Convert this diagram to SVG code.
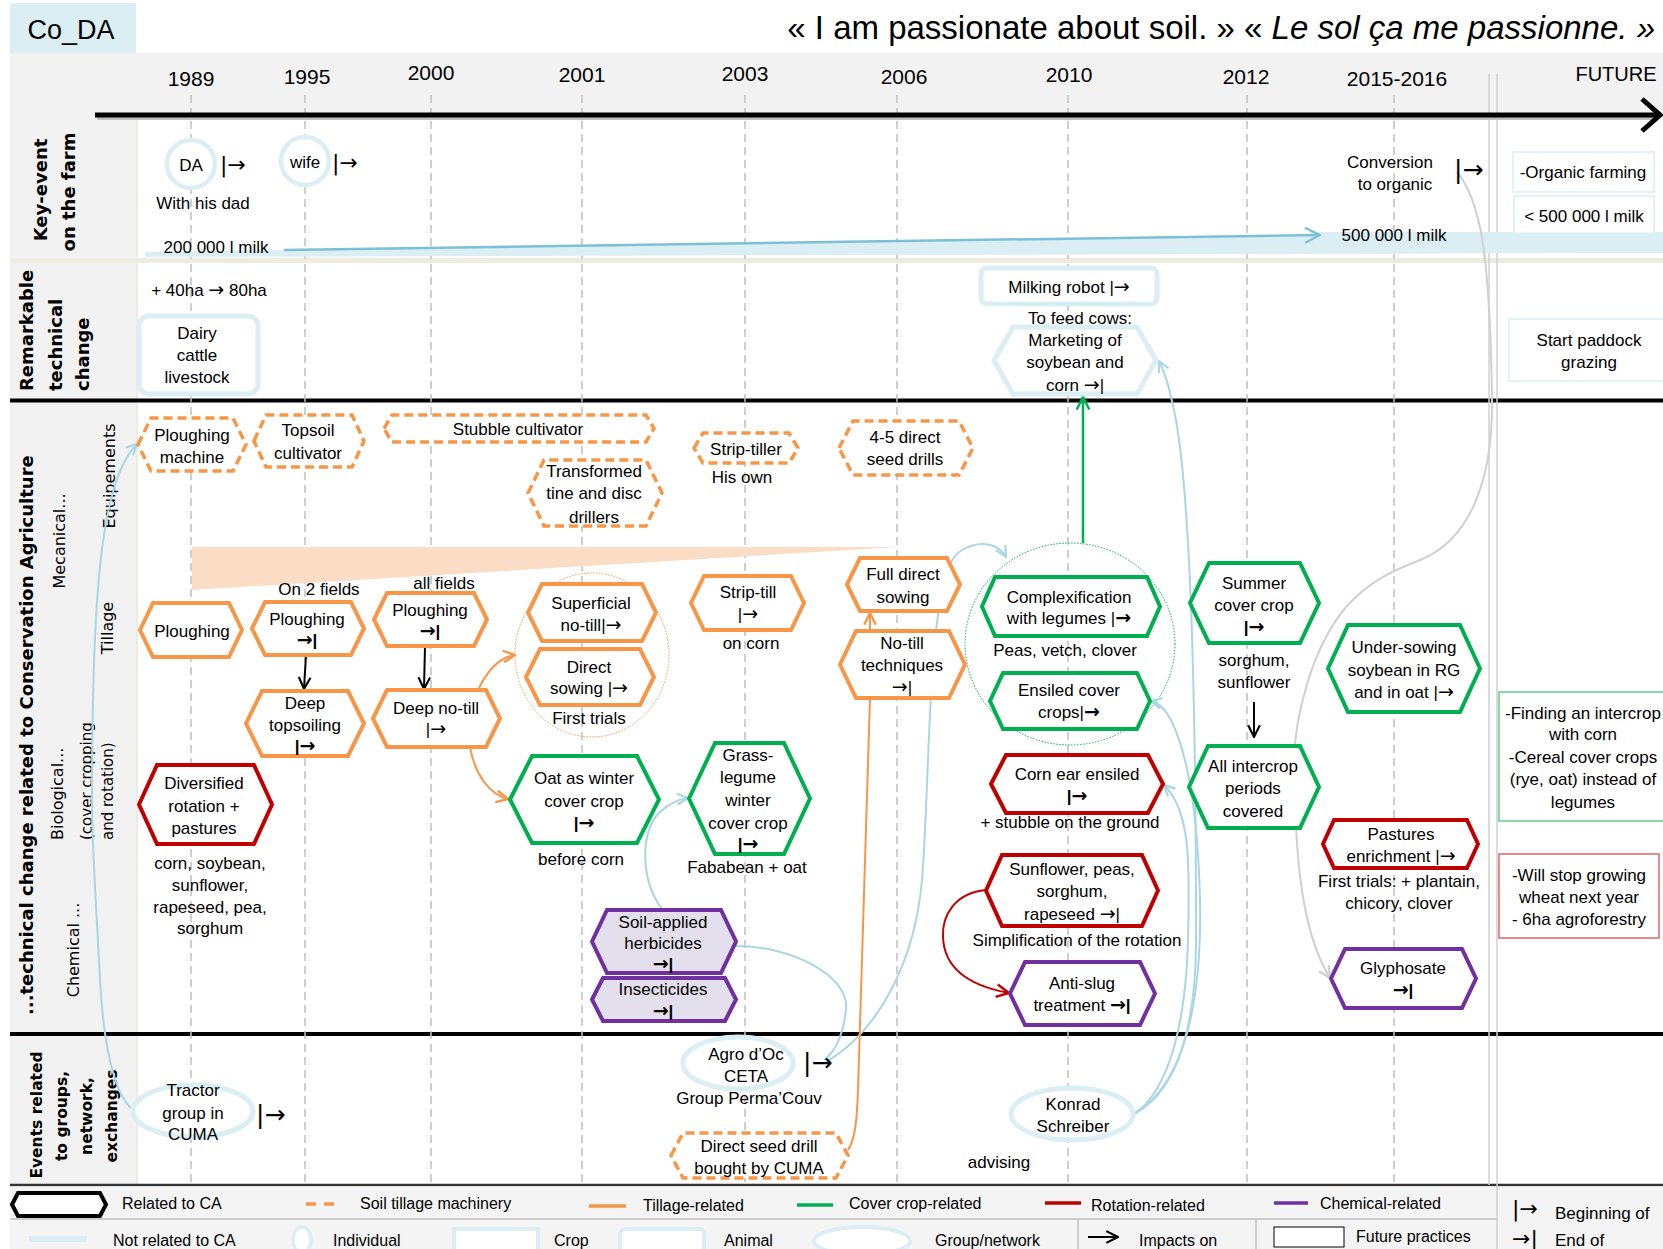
<svg xmlns="http://www.w3.org/2000/svg" width="1663" height="1249" viewBox="0 0 1663 1249">
<defs>
<style>
text{font-family:"Liberation Sans",Arial,sans-serif;fill:#000}
.t{font-size:17px;text-anchor:middle}
.a{font-family:"DejaVu Sans",sans-serif;font-size:19px}
.yr{font-size:21px;text-anchor:middle}
.lg{font-size:16px}
.rl{font-family:"DejaVu Sans",Verdana,sans-serif;font-weight:bold;font-size:18px;text-anchor:middle}
.rs{font-family:"DejaVu Sans",Verdana,sans-serif;font-weight:bold;font-size:15.5px;text-anchor:middle}
.sl{font-family:"DejaVu Sans",Verdana,sans-serif;font-size:16px;text-anchor:middle}
.sym{font-family:"DejaVu Sans",sans-serif;font-size:22px}
.yd{stroke:#c0c0c0;stroke-width:1.5;stroke-dasharray:8 5;fill:none}
.eq{fill:#fff;stroke:#f79646;stroke-width:3.5;stroke-dasharray:9 5}
.ti{fill:#fff;stroke:#f79646;stroke-width:4}
.cc{fill:#fff;stroke:#00b050;stroke-width:4}
.ro{fill:#fff;stroke:#c00000;stroke-width:4}
.ch{fill:#fff;stroke:#7030a0;stroke-width:4}
.chf{fill:#e4dfec;stroke:#7030a0;stroke-width:4}
.lb{fill:#fff;stroke:#daeef3;stroke-width:5}
.fb{fill:#fff;stroke:#daeef3;stroke-width:1.5}
.cb{fill:none;stroke:#a9d6e5;stroke-width:2}
.cg{fill:none;stroke:#d0d0d0;stroke-width:2}
.co{fill:none;stroke:#f79646;stroke-width:2}
.ck{fill:none;stroke:#000;stroke-width:2}
</style>
<marker id="mB" viewBox="0 0 12 12" refX="11" refY="6" markerWidth="13" markerHeight="13" orient="auto" markerUnits="userSpaceOnUse"><path d="M1,1 L11,6 L1,11" fill="none" stroke="#a9d6e5" stroke-width="2"/></marker>
<marker id="mM" viewBox="0 0 12 12" refX="11" refY="6" markerWidth="18" markerHeight="18" orient="auto" markerUnits="userSpaceOnUse"><path d="M1,1 L11,6 L1,11" fill="none" stroke="#7cc0d8" stroke-width="1.5"/></marker>
<marker id="mG" viewBox="0 0 12 12" refX="11" refY="6" markerWidth="14" markerHeight="14" orient="auto" markerUnits="userSpaceOnUse"><path d="M1,1 L11,6 L1,11" fill="none" stroke="#d0d0d0" stroke-width="2"/></marker>
<marker id="mO" viewBox="0 0 12 12" refX="11" refY="6" markerWidth="14" markerHeight="14" orient="auto" markerUnits="userSpaceOnUse"><path d="M1,1 L11,6 L1,11" fill="none" stroke="#f79646" stroke-width="2"/></marker>
<marker id="mN" viewBox="0 0 12 12" refX="11" refY="6" markerWidth="15" markerHeight="15" orient="auto" markerUnits="userSpaceOnUse"><path d="M1,1 L11,6 L1,11" fill="none" stroke="#00b050" stroke-width="2"/></marker>
<marker id="mR" viewBox="0 0 12 12" refX="11" refY="6" markerWidth="15" markerHeight="15" orient="auto" markerUnits="userSpaceOnUse"><path d="M1,1 L11,6 L1,11" fill="none" stroke="#c00000" stroke-width="2"/></marker>
<marker id="mK" viewBox="0 0 12 12" refX="11" refY="6" markerWidth="14" markerHeight="14" orient="auto" markerUnits="userSpaceOnUse"><path d="M1,1 L11,6 L1,11" fill="none" stroke="#000" stroke-width="1.8"/></marker>
</defs>

<g id="background">
<rect width="1663" height="1249" fill="#fff"/>
<rect x="10" y="3" width="126" height="52" fill="#daeef3"/>
<rect x="10" y="53" width="1653" height="60" fill="#f2f2f2"/>
<rect x="10" y="53" width="126" height="1132" fill="#f2f2f2"/>
<line x1="137" y1="113" x2="137" y2="1185" stroke="#eeece1" stroke-width="2"/>
<rect x="10" y="258" width="1653" height="5" fill="#eeece1"/>
<line x1="10" y1="400.5" x2="1663" y2="400.5" stroke="#000" stroke-width="4"/>
<line x1="10" y1="1034" x2="1663" y2="1034" stroke="#000" stroke-width="4"/>
<line x1="10" y1="1185" x2="1663" y2="1185" stroke="#333" stroke-width="2.5"/>
<rect x="10" y="1186.5" width="1653" height="62.5" fill="#f4f4f4"/>
<line x1="10" y1="1219" x2="1497" y2="1219" stroke="#bfbfbf" stroke-width="1.5"/>
<line x1="1078" y1="1219" x2="1078" y2="1249" stroke="#bfbfbf" stroke-width="1.5"/>
<line x1="1256" y1="1219" x2="1256" y2="1249" stroke="#bfbfbf" stroke-width="1.5"/>
<line x1="1489" y1="74" x2="1489" y2="1185" stroke="#d0d0d0" stroke-width="1.5"/>
<line x1="1497" y1="74" x2="1497" y2="1249" stroke="#d0d0d0" stroke-width="1.5"/>
</g>

<g id="year-lines">
<line class="yd" x1="191" y1="95" x2="191" y2="1185"/>
<line class="yd" x1="305" y1="95" x2="305" y2="1185"/>
<line class="yd" x1="431" y1="95" x2="431" y2="1185"/>
<line class="yd" x1="582" y1="95" x2="582" y2="1185"/>
<line class="yd" x1="745" y1="95" x2="745" y2="1185"/>
<line class="yd" x1="897" y1="95" x2="897" y2="1185"/>
<line class="yd" x1="1068" y1="95" x2="1068" y2="1185"/>
<line class="yd" x1="1247" y1="95" x2="1247" y2="1185"/>
<line class="yd" x1="1394" y1="95" x2="1394" y2="1185"/>
</g>

<g id="header">
<text x="71" y="39" style="font-size:27px;text-anchor:middle">Co_DA</text>
<text x="1655" y="39" style="font-size:33px;text-anchor:end">« I am passionate about soil. » « <tspan font-style="italic">Le sol ça me passionne. »</tspan></text>
<text class="yr" x="191" y="86">1989</text>
<text class="yr" x="307" y="84">1995</text>
<text class="yr" x="431" y="80">2000</text>
<text class="yr" x="582" y="82">2001</text>
<text class="yr" x="745" y="81">2003</text>
<text class="yr" x="904" y="84">2006</text>
<text class="yr" x="1069" y="82">2010</text>
<text class="yr" x="1246" y="84">2012</text>
<text class="yr" x="1397" y="86">2015-2016</text>
<text class="yr" x="1616" y="81" style="font-size:20px">FUTURE</text>
<line x1="97" y1="118.5" x2="1655" y2="118.5" stroke="#bfbfbf" stroke-width="3"/>
<line x1="95" y1="115" x2="1658" y2="115" stroke="#000" stroke-width="5"/>
<polyline points="1642,99 1660,115 1642,131" fill="none" stroke="#000" stroke-width="5"/>
</g>

<g id="row-labels">
<text class="rl" transform="translate(47,190) rotate(-90)">Key-event</text>
<text class="rl" transform="translate(75,192) rotate(-90)">on the farm</text>
<text class="rl" transform="translate(33,391) rotate(-90)" style="text-anchor:start">Remarkable</text>
<text class="rl" transform="translate(62,391) rotate(-90)" style="text-anchor:start">technical</text>
<text class="rl" transform="translate(89,391) rotate(-90)" style="text-anchor:start">change</text>
<text class="rl" transform="translate(33,1015) rotate(-90)" style="text-anchor:start">...technical change related to Conservation Agriculture</text>
<text class="sl" transform="translate(65,541) rotate(-90)">Mecanical...</text>
<text class="sl" transform="translate(115,476) rotate(-90)">Equipements</text>
<text class="sl" transform="translate(113,628) rotate(-90)">Tillage</text>
<text class="sl" transform="translate(63,840) rotate(-90)" style="text-anchor:start">Biological...</text>
<text class="sl" transform="translate(92,840) rotate(-90)" style="text-anchor:start;font-size:15px">(cover cropping</text>
<text class="sl" transform="translate(113,840) rotate(-90)" style="text-anchor:start;font-size:15px">and rotation)</text>
<text class="sl" transform="translate(79,950) rotate(-90)">Chemical ...</text>
<text class="rs" transform="translate(42,1115) rotate(-90)">Events related</text>
<text class="rs" transform="translate(67,1116) rotate(-90)">to groups,</text>
<text class="rs" transform="translate(92,1116) rotate(-90)">network,</text>
<text class="rs" transform="translate(117,1116) rotate(-90)">exchanges</text>
</g>

<g id="milk-band">
<polygon points="145,252 1310,236 1310,232 1663,232 1663,253 145,257" fill="#daeef3"/>
</g>

<g id="groupings">
<ellipse cx="592" cy="655" rx="77" ry="82" fill="none" stroke="#f79646" stroke-width="1" stroke-dasharray="1.5 1.5"/>
<ellipse cx="1070" cy="644" rx="105" ry="101" fill="none" stroke="#00b050" stroke-width="1" stroke-dasharray="1.5 1.5"/>
<polygon points="192,547 898,547 192,590" fill="#fbdcc4"/>
</g>

<g id="connectors">
<path d="M284,250 L1320,235" fill="none" stroke="#7cc0d8" stroke-width="2.5" marker-end="url(#mM)"/>
<path class="cb" d="M133,1110 C115,1095 104,1050 100,980 C96,900 92,850 92,800 C92,600 100,480 137,444" marker-end="url(#mB)"/>
<path class="cb" d="M662,909 C640,880 640,830 660,812 C670,803 678,799 688,798" marker-end="url(#mB)"/>
<path class="cb" d="M736,946 C790,946 850,975 846,1010 C843,1035 835,1052 824,1060"/>
<path class="cb" d="M826,1062 C880,1030 915,960 922,880 C927,820 928,720 934,650 C940,590 945,560 962,550 C980,540 998,543 1006,557" marker-end="url(#mB)"/>
<path class="cb" d="M1134,1114 C1180,1090 1196,1020 1196,940 C1196,700 1190,500 1176,420 C1170,390 1166,375 1159,361" marker-end="url(#mB)"/>
<path class="cb" d="M1134,1114 C1185,1085 1202,1000 1200,900 C1198,820 1190,760 1172,722 C1166,710 1160,703 1151,701" marker-end="url(#mB)"/>
<path class="cb" d="M1134,1114 C1170,1090 1186,1020 1188,940 C1190,860 1190,810 1164,785" marker-end="url(#mB)"/>
<path class="cg" d="M1457,172 C1480,200 1490,250 1492,400 C1493,480 1470,540 1420,560 C1395,570 1370,580 1346,607 C1310,650 1295,720 1294,760 C1295,850 1300,930 1330,978" marker-end="url(#mG)"/>
<path class="co" d="M479,688 C488,670 500,657 515,655" marker-end="url(#mO)"/>
<path class="co" d="M470,747 C475,775 490,795 508,799" marker-end="url(#mO)"/>
<path class="co" d="M870,631 L870,613" marker-end="url(#mO)"/>
<path class="co" d="M848,1150 C855,1140 857,1120 858,1090 L870,698"/>
<path d="M1083,543 L1083,397" fill="none" stroke="#00b050" stroke-width="2.5" marker-end="url(#mN)"/>
<path d="M986,890 C955,893 942,915 943,937 C944,965 965,985 1009,993" fill="none" stroke="#c00000" stroke-width="2" marker-end="url(#mR)"/>
<path class="ck" d="M306,655 L304,689" marker-end="url(#mK)"/>
<path class="ck" d="M425,646 L424,689" marker-end="url(#mK)"/>
<path class="ck" d="M1254,702 L1254,737" marker-end="url(#mK)"/>
</g>

<g id="key-events">
<g id="n-da"><ellipse class="lb" cx="191" cy="164" rx="24" ry="24" style="stroke-width:4.5"/><text class="t" x="191" y="171">DA</text><text class="sym" x="220" y="172">|→</text></g>
<g id="n-dad"><text class="t" x="203" y="209">With his dad</text></g>
<g id="n-wife"><ellipse class="lb" cx="305" cy="161" rx="24" ry="24" style="stroke-width:4.5"/><text class="t" x="305" y="168">wife</text><text class="sym" x="332" y="170">|→</text></g>
<g id="n-milk200"><text class="t" x="216" y="253">200 000 l milk</text></g>
<g id="n-milk500"><text class="t" x="1394" y="241">500 000 l milk</text></g>
<g id="n-conversion"><text class="t" x="1390" y="168">Conversion</text><text class="t" x="1395" y="190">to organic</text><text class="sym" x="1454" y="178" style="font-size:25px">|→</text></g>
<g id="f-organic"><rect class="fb" x="1513" y="152" width="141" height="40"/><text class="t" x="1583" y="178">-Organic farming</text></g>
<g id="f-milk"><rect class="fb" x="1514" y="196" width="140" height="37"/><text class="t" x="1584" y="222">&lt; 500 000 l milk</text></g>
</g>

<g id="remarkable">
<g id="n-ha"><text class="t" x="209" y="296">+ 40ha <tspan class="a">→</tspan> 80ha</text></g>
<g id="n-dairy"><rect class="lb" x="139" y="316" width="119" height="78" rx="10"/><text class="t" x="197" y="339">Dairy</text><text class="t" x="197" y="361">cattle</text><text class="t" x="197" y="383">livestock</text></g>
<g id="n-robot"><rect class="lb" x="981" y="268" width="176" height="36" rx="6"/><text class="t" x="1069" y="293">Milking robot |<tspan class="a">→</tspan></text></g>
<g id="n-feed"><text class="t" x="1080" y="324">To feed cows:</text></g>
<g id="n-marketing"><polygon class="lb" points="994,360.5 1013,327 1137,327 1156,360.5 1137,394 1013,394"/><text class="t" x="1075" y="346">Marketing  of</text><text class="t" x="1075" y="368">soybean and</text><text class="t" x="1075" y="391">corn <tspan class="a">→</tspan>|</text></g>
<g id="f-paddock"><rect class="fb" x="1509" y="319" width="160" height="62"/><text class="t" x="1589" y="346">Start paddock</text><text class="t" x="1589" y="368">grazing</text></g>
</g>

<g id="equipments">
<g id="n-ploughing-machine"><polygon class="eq" points="138,444.5 151,418 233,418 246,444.5 233,471 151,471"/><text class="t" x="192" y="441">Ploughing</text><text class="t" x="192" y="463">machine</text></g>
<g id="n-topsoil-cultivator"><polygon class="eq" points="254,441 266,415 352,415 364,441 352,467 266,467"/><text class="t" x="308" y="436">Topsoil</text><text class="t" x="308" y="459">cultivator</text></g>
<g id="n-stubble"><polygon class="eq" points="384,428.5 392,415 646,415 654,428.5 646,442 392,442"/><text class="t" x="518" y="435">Stubble cultivator</text></g>
<g id="n-transformed"><polygon class="eq" points="528,493 544,460 646,460 662,493 646,526 544,526"/><text class="t" x="594" y="477">Transformed</text><text class="t" x="594" y="499">tine and disc</text><text class="t" x="594" y="523">drillers</text></g>
<g id="n-strip-tiller"><polygon class="eq" points="694,448 703,433 789,433 798,448 789,463 703,463"/><text class="t" x="746" y="455">Strip-tiller</text><text class="t" x="742" y="483">His own</text></g>
<g id="n-seed-drills"><polygon class="eq" points="839,448 853,421 959,421 973,448 959,475 853,475"/><text class="t" x="905" y="443">4-5 direct</text><text class="t" x="905" y="465">seed drills</text></g>
</g>

<g id="tillage">
<g id="n-ploughing-1989"><polygon class="ti" points="140,630 153,603 229,603 242,630 229,657 153,657"/><text class="t" x="192" y="637">Ploughing</text></g>
<g id="n-ploughing-1995"><text class="t" x="319" y="595">On 2 fields</text><polygon class="ti" points="252,628.5 265,602 351,602 364,628.5 351,655 265,655"/><text class="t" x="307" y="625">Ploughing</text><text class="t" x="307" y="646" font-weight="bold"><tspan class="a">→</tspan>|</text></g>
<g id="n-ploughing-2000"><text class="t" x="444" y="589">all fields</text><polygon class="ti" points="374,619.5 387,593 474,593 487,619.5 474,646 387,646"/><text class="t" x="430" y="616">Ploughing</text><text class="t" x="430" y="637" font-weight="bold"><tspan class="a">→</tspan>|</text></g>
<g id="n-deep-topsoiling"><polygon class="ti" points="246,723.5 262,691 348,691 364,723.5 348,756 262,756"/><text class="t" x="305" y="709">Deep</text><text class="t" x="305" y="731">topsoiling</text><text class="t" x="305" y="752" font-weight="bold">|<tspan class="a">→</tspan></text></g>
<g id="n-deep-notill"><polygon class="ti" points="373,718.5 387,690 486,690 500,718.5 486,747 387,747"/><text class="t" x="436" y="714">Deep no-till</text><text class="t" x="436" y="735">|<tspan class="a">→</tspan></text></g>
<g id="n-superficial"><polygon class="ti" points="528,612.5 542,584 642,584 656,612.5 642,641 542,641"/><text class="t" x="591" y="609">Superficial</text><text class="t" x="591" y="631">no-till|<tspan class="a">→</tspan></text></g>
<g id="n-direct-sowing"><polygon class="ti" points="526,677 540,649 640,649 654,677 640,705 540,705"/><text class="t" x="589" y="673">Direct</text><text class="t" x="589" y="694">sowing |<tspan class="a">→</tspan></text><text class="t" x="589" y="724">First trials</text></g>
<g id="n-strip-till"><polygon class="ti" points="691,603 704,576 791,576 804,603 791,630 704,630"/><text class="t" x="748" y="598">Strip-till</text><text class="t" x="748" y="620">|<tspan class="a">→</tspan></text><text class="t" x="751" y="649">on corn</text></g>
<g id="n-full-direct"><polygon class="ti" points="847,584.5 860,558 947,558 960,584.5 947,611 860,611"/><text class="t" x="903" y="580">Full direct</text><text class="t" x="903" y="603">sowing</text></g>
<g id="n-notill-tech"><polygon class="ti" points="840,664.5 856,631 949,631 965,664.5 949,698 856,698"/><text class="t" x="902" y="649">No-till</text><text class="t" x="902" y="671">techniques</text><text class="t" x="902" y="693"><tspan class="a">→</tspan>|</text></g>
</g>

<g id="cover-crops">
<g id="n-oat"><polygon class="cc" points="510,799.5 532,756 637,756 659,799.5 637,843 532,843"/><text class="t" x="584" y="784">Oat as winter</text><text class="t" x="584" y="807">cover crop</text><text class="t" x="584" y="829" font-weight="bold">|<tspan class="a">→</tspan></text><text class="t" x="581" y="865">before corn</text></g>
<g id="n-grass-legume"><polygon class="cc" points="689,798.5 715,743 784,743 810,798.5 784,854 715,854"/><text class="t" x="748" y="761">Grass-</text><text class="t" x="748" y="783">legume</text><text class="t" x="748" y="806">winter</text><text class="t" x="748" y="829">cover crop</text><text class="t" x="748" y="850" font-weight="bold">|<tspan class="a">→</tspan></text><text class="t" x="747" y="873">Fababean + oat</text></g>
<g id="n-complexification"><polygon class="cc" points="982,606.5 995,577 1147,577 1160,606.5 1147,636 995,636"/><text class="t" x="1069" y="603">Complexification</text><text class="t" x="1069" y="624">with legumes |<tspan class="a" font-weight="bold">→</tspan></text><text class="t" x="1065" y="656">Peas, vetch, clover</text></g>
<g id="n-ensiled-cover"><polygon class="cc" points="990,701 1003,673 1137,673 1150,701 1137,729 1003,729"/><text class="t" x="1069" y="696">Ensiled cover</text><text class="t" x="1069" y="718">crops|<tspan class="a" font-weight="bold">→</tspan></text></g>
<g id="n-summer-cover"><polygon class="cc" points="1190,603 1209,563 1300,563 1319,603 1300,643 1209,643"/><text class="t" x="1254" y="589">Summer</text><text class="t" x="1254" y="611">cover crop</text><text class="t" x="1254" y="633" font-weight="bold">|<tspan class="a">→</tspan></text><text class="t" x="1254" y="666">sorghum,</text><text class="t" x="1254" y="688">sunflower</text></g>
<g id="n-all-intercrop"><polygon class="cc" points="1189,787 1208,746 1300,746 1319,787 1300,828 1208,828"/><text class="t" x="1253" y="772">All intercrop</text><text class="t" x="1253" y="794">periods</text><text class="t" x="1253" y="817">covered</text></g>
<g id="n-undersowing"><polygon class="cc" points="1328,668.5 1348,625 1460,625 1480,668.5 1460,712 1348,712"/><text class="t" x="1404" y="653">Under-sowing</text><text class="t" x="1404" y="676">soybean in RG</text><text class="t" x="1404" y="698">and in oat |<tspan class="a">→</tspan></text></g>
<g id="f-intercrop"><rect x="1499" y="692" width="170" height="129" fill="#fff" stroke="#5fd08a" stroke-width="1.5"/><text class="t" x="1583" y="719">-Finding an intercrop</text><text class="t" x="1583" y="740">with corn</text><text class="t" x="1583" y="763">-Cereal cover crops</text><text class="t" x="1583" y="785">(rye, oat) instead of</text><text class="t" x="1583" y="808">legumes</text></g>
</g>

<g id="rotation">
<g id="n-diversified"><polygon class="ro" points="139,804.5 157,765 254,765 272,804.5 254,844 157,844"/><text class="t" x="204" y="789">Diversified</text><text class="t" x="204" y="812">rotation +</text><text class="t" x="204" y="834">pastures</text><text class="t" x="210" y="869">corn, soybean,</text><text class="t" x="210" y="891">sunflower,</text><text class="t" x="210" y="913">rapeseed, pea,</text><text class="t" x="210" y="934">sorghum</text></g>
<g id="n-corn-ear"><polygon class="ro" points="991,784 1006,755 1148,755 1163,784 1148,813 1006,813"/><text class="t" x="1077" y="780">Corn ear ensiled</text><text class="t" x="1077" y="802" font-weight="bold">|<tspan class="a">→</tspan></text><text class="t" x="1070" y="828">+ stubble on the ground</text></g>
<g id="n-sunflower"><polygon class="ro" points="986,890.5 1002,855 1142,855 1158,890.5 1142,926 1002,926"/><text class="t" x="1072" y="875">Sunflower, peas,</text><text class="t" x="1072" y="897">sorghum,</text><text class="t" x="1072" y="920">rapeseed <tspan class="a">→</tspan>|</text><text class="t" x="1077" y="946">Simplification of the rotation</text></g>
<g id="n-pastures"><polygon class="ro" points="1323,844 1334,820 1467,820 1478,844 1467,868 1334,868"/><text class="t" x="1401" y="840">Pastures</text><text class="t" x="1401" y="862">enrichment |<tspan class="a">→</tspan></text><text class="t" x="1399" y="887">First trials: + plantain,</text><text class="t" x="1399" y="909">chicory, clover</text></g>
<g id="f-wheat"><rect x="1499" y="854" width="160" height="84" fill="#fff" stroke="#e06666" stroke-width="1.5"/><text class="t" x="1579" y="881">-Will stop growing</text><text class="t" x="1579" y="903">wheat next year</text><text class="t" x="1579" y="925">- 6ha agroforestry</text></g>
</g>

<g id="chemical">
<g id="n-herbicides"><polygon class="chf" points="592,941.5 607,910 721,910 736,941.5 721,973 607,973"/><text class="t" x="663" y="928">Soil-applied</text><text class="t" x="663" y="949">herbicides</text><text class="t" x="663" y="970" font-weight="bold"><tspan class="a">→</tspan>|</text></g>
<g id="n-insecticides"><polygon class="chf" points="592,999.5 603,978 725,978 736,999.5 725,1021 603,1021"/><text class="t" x="663" y="995">Insecticides</text><text class="t" x="663" y="1017" font-weight="bold"><tspan class="a">→</tspan>|</text></g>
<g id="n-antislug"><polygon class="ch" points="1010,993.5 1025,962 1140,962 1155,993.5 1140,1025 1025,1025"/><text class="t" x="1082" y="989">Anti-slug</text><text class="t" x="1082" y="1011">treatment <tspan font-weight="bold"><tspan class="a">→</tspan>|</tspan></text></g>
<g id="n-glyphosate"><polygon class="ch" points="1331,978.5 1345,949 1462,949 1476,978.5 1462,1008 1345,1008"/><text class="t" x="1403" y="974">Glyphosate</text><text class="t" x="1403" y="996" font-weight="bold"><tspan class="a">→</tspan>|</text></g>
</g>

<g id="events">
<g id="n-tractor"><ellipse class="lb" cx="193" cy="1111" rx="60" ry="26"/><text class="t" x="193" y="1096">Tractor</text><text class="t" x="193" y="1119">group in</text><text class="t" x="193" y="1140">CUMA</text><text class="sym" x="256" y="1123" style="font-size:25px">|→</text></g>
<g id="n-agro"><ellipse class="lb" cx="738" cy="1063" rx="55" ry="26"/><text class="t" x="746" y="1060">Agro d’Oc</text><text class="t" x="746" y="1082">CETA</text><text class="sym" x="803" y="1071" style="font-size:25px">|→</text><text class="t" x="749" y="1104">Group Perma’Couv</text></g>
<g id="n-drill-cuma"><polygon class="eq" points="671,1155.5 683,1133 836,1133 848,1155.5 836,1178 683,1178"/><text class="t" x="759" y="1152">Direct seed drill</text><text class="t" x="759" y="1174">bought by CUMA</text></g>
<g id="n-konrad"><ellipse class="lb" cx="1072" cy="1114" rx="61" ry="26"/><text class="t" x="1073" y="1110">Konrad</text><text class="t" x="1073" y="1132">Schreiber</text><text class="t" x="999" y="1168">advising</text></g>
</g>

<g id="legend">
<polygon points="12,1204.5 18,1193 100,1193 106,1204.5 100,1216 18,1216" fill="#fff" stroke="#000" stroke-width="4"/>
<text class="lg" x="122" y="1209">Related to CA</text>
<line x1="306" y1="1204" x2="341" y2="1204" stroke="#f79646" stroke-width="3.5" stroke-dasharray="10 8"/>
<text class="lg" x="360" y="1209">Soil tillage machinery</text>
<line x1="589" y1="1206" x2="626" y2="1206" stroke="#f79646" stroke-width="3.5"/>
<text class="lg" x="643" y="1211">Tillage-related</text>
<line x1="797" y1="1205" x2="833" y2="1205" stroke="#00b050" stroke-width="3.5"/>
<text class="lg" x="849" y="1209">Cover crop-related</text>
<line x1="1045" y1="1203" x2="1081" y2="1203" stroke="#c00000" stroke-width="3.5"/>
<text class="lg" x="1091" y="1211">Rotation-related</text>
<line x1="1274" y1="1203" x2="1308" y2="1203" stroke="#7030a0" stroke-width="3.5"/>
<text class="lg" x="1320" y="1209">Chemical-related</text>
<line x1="29" y1="1239" x2="87" y2="1239" stroke="#daeef3" stroke-width="6"/>
<text class="lg" x="113" y="1246">Not related to CA</text>
<ellipse cx="302" cy="1240" rx="9" ry="13" fill="#fff" stroke="#daeef3" stroke-width="3.5"/>
<text class="lg" x="333" y="1246">Individual</text>
<rect x="454" y="1229" width="84" height="26" fill="#fff" stroke="#daeef3" stroke-width="4"/>
<text class="lg" x="554" y="1246">Crop</text>
<rect x="620" y="1229" width="84" height="26" rx="6" fill="#fff" stroke="#daeef3" stroke-width="4"/>
<text class="lg" x="724" y="1246">Animal</text>
<ellipse cx="862" cy="1241" rx="48" ry="14" fill="#fff" stroke="#daeef3" stroke-width="4"/>
<text class="lg" x="935" y="1246">Group/network</text>
<line x1="1088" y1="1237" x2="1118" y2="1237" stroke="#000" stroke-width="2" marker-end="url(#mK)"/>
<text class="lg" x="1139" y="1246">Impacts on</text>
<rect x="1274" y="1227" width="70" height="20" fill="#fff" stroke="#000" stroke-width="1"/>
<text class="lg" x="1356" y="1242">Future practices</text>
<text class="sym" x="1512" y="1216">|→</text>
<text class="lg" x="1555" y="1219" style="font-size:17px">Beginning of</text>
<text class="sym" x="1512" y="1246">→|</text>
<text class="lg" x="1555" y="1246" style="font-size:17px">End of</text>
</g>
</svg>
